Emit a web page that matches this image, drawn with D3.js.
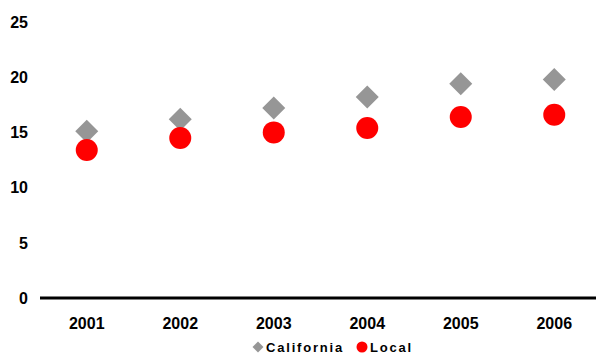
<!DOCTYPE html>
<html lang="en">
  <head>
    <meta charset="utf-8">
    <title>California vs Local</title>
    <style>
      body { margin: 0; background: #fff; }
      text { font-family: 'Liberation Sans', Arial, sans-serif; font-weight: bold; }
    </style>
  </head>
  <body>
    <div id="chart-area"></div>
    <script src="https://cdn.jsdelivr.net/npm/d3@7"></script>
    <script>
      const years = ['2001', '2002', '2003', '2004', '2005', '2006'];
      const california = [15.1, 16.2, 17.2, 18.2, 19.4, 19.8];
      const local = [13.4, 14.5, 15.0, 15.4, 16.4, 16.6];
      const y_ticks = [0, 5, 10, 15, 20, 25];

      const svg_width = 596;
      const svg_height = 354;

      const svg = d3.select('#chart-area')
        .append('svg')
        .attr('width', svg_width)
        .attr('height', svg_height);

      const x_scale = d3.scalePoint()
        .domain(years)
        .range([40, 601])
        .padding(0.5);

      const y_scale = d3.scaleLinear()
        .domain([0, 25])
        .range([298, 22]);

      // y labels, no axis line
      svg.selectAll('.ylab').data(y_ticks).enter()
        .append('text')
        .attr('class', 'ylab')
        .attr('x', 28)
        .attr('y', d => y_scale(d))
        .attr('dy', '0.36em')
        .attr('text-anchor', 'end')
        .attr('font-size', '16px')
        .text(d => d);

      // x axis line
      svg.append('line')
        .attr('x1', 40)
        .attr('x2', svg_width)
        .attr('y1', y_scale(0))
        .attr('y2', y_scale(0))
        .attr('stroke', '#000')
        .attr('stroke-width', 3);

      svg.selectAll('.xlab').data(years).enter()
        .append('text')
        .attr('class', 'xlab')
        .attr('x', d => x_scale(d))
        .attr('y', 323)
        .attr('dy', '0.36em')
        .attr('text-anchor', 'middle')
        .attr('font-size', '16px')
        .text(d => d);

      const diamond = d3.symbol().type(d3.symbolSquare).size(265);

      svg.selectAll('.cal').data(california).enter()
        .append('path')
        .attr('class', 'cal')
        .attr('d', diamond)
        .attr('transform', (d, i) => `translate(${x_scale(years[i])},${y_scale(d)}) rotate(45)`)
        .attr('fill', '#969696');

      svg.selectAll('.loc').data(local).enter()
        .append('circle')
        .attr('class', 'loc')
        .attr('cx', (d, i) => x_scale(years[i]))
        .attr('cy', d => y_scale(d))
        .attr('r', 11)
        .attr('fill', '#ff0000');

      // legend
      const legend = svg.append('g');
      legend.append('path')
        .attr('d', d3.symbol().type(d3.symbolSquare).size(60))
        .attr('transform', 'translate(258,347) rotate(45)')
        .attr('fill', '#969696');
      legend.append('text')
        .attr('x', 266)
        .attr('y', 347)
        .attr('dy', '0.36em')
        .attr('font-size', '13px')
        .attr('letter-spacing', '1.8px')
        .text('California');
      legend.append('circle')
        .attr('cx', 362)
        .attr('cy', 347)
        .attr('r', 5.5)
        .attr('fill', '#ff0000');
      legend.append('text')
        .attr('x', 370)
        .attr('y', 347)
        .attr('dy', '0.36em')
        .attr('font-size', '13px')
        .attr('letter-spacing', '1.8px')
        .text('Local');
    </script>
  </body>
</html>
